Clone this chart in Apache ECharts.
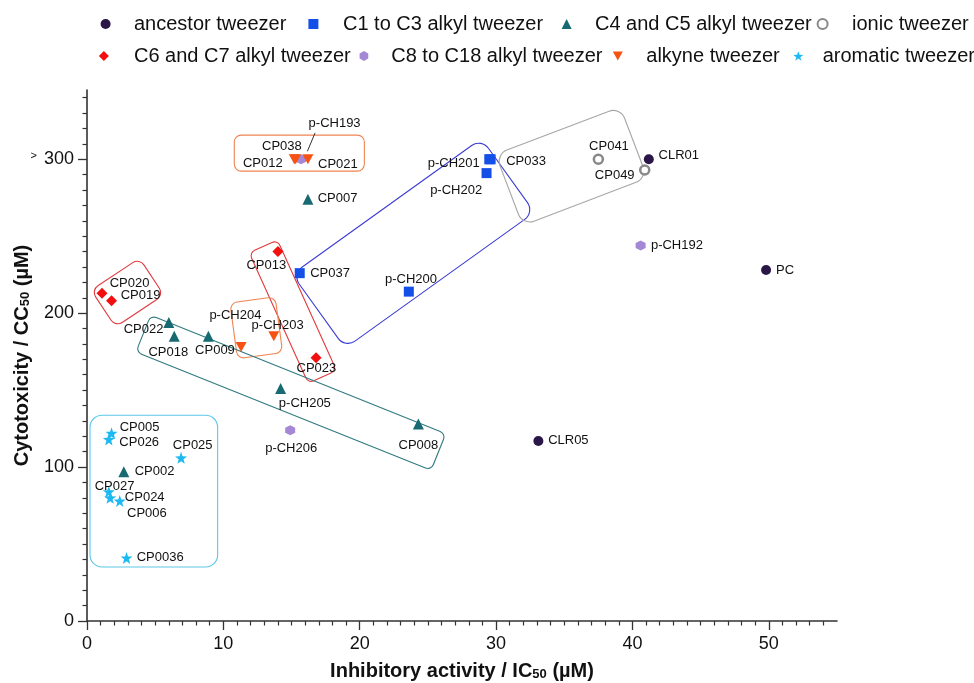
<!DOCTYPE html>
<html><head><meta charset="utf-8">
<script src="https://cdn.jsdelivr.net/npm/echarts@6/dist/echarts.min.js"></script>
<style>html,body{margin:0;padding:0;background:#fff}#c{width:974px;height:683px}</style>
</head><body><div id="c"></div>
<script>
// ---------------- DATA ----------------
const ancestorNames = ['CLR01', 'PC', 'CLR05'];
const ancestorIC50 = [41.2, 49.8, 33.1];
const ancestorCC50 = [300, 228, 117];

const c1c3Names = ['p-CH201', 'CP033', 'p-CH202', 'CP037', 'p-CH200'];
const c1c3IC50 = [29.5, 29.6, 29.3, 15.6, 23.6];
const c1c3CC50 = [300, 300, 291, 226, 214];

const c4c5Names = ['CP007', 'CP022', 'CP018', 'CP009', 'p-CH205', 'CP008', 'CP002'];
const c4c5IC50 = [16.2, 6.0, 6.4, 8.9, 14.2, 24.3, 2.7];
const c4c5CC50 = [274, 194, 185, 185, 151, 128, 97];

const ionicNames = ['CP041', 'CP049'];
const ionicIC50 = [37.5, 40.9];
const ionicCC50 = [300, 293];

const c6c7Names = ['CP020', 'CP019', 'CP013', 'CP023'];
const c6c7IC50 = [1.1, 1.8, 14.0, 16.8];
const c6c7CC50 = [213, 208, 240, 171];

const c8c18Names = ['p-CH193', 'p-CH192', 'p-CH206'];
const c8c18IC50 = [15.7, 40.6, 14.9];
const c8c18CC50 = [300, 244, 124];

const alkyneNames = ['CP038', 'CP012', 'CP021', 'p-CH204', 'p-CH203'];
const alkyneIC50 = [15.3, 15.2, 16.2, 11.3, 13.7];
const alkyneCC50 = [300, 300, 300, 178, 185];

const aromaticNames = ['CP005', 'CP026', 'CP025', 'CP027', 'CP024', 'CP006', 'CP0036'];
const aromaticIC50 = [1.8, 1.6, 6.9, 1.6, 2.4, 1.7, 2.9];
const aromaticCC50 = [122, 118, 106, 84, 78, 80, 41];

const groupNames = ['ancestor tweezer', 'C1 to C3 alkyl tweezer', 'C4 and C5 alkyl tweezer', 'ionic tweezer',
  'C6 and C7 alkyl tweezer', 'C8 to C18 alkyl tweezer', 'alkyne tweezer', 'aromatic tweezer'];

const xTickLabels = [0, 10, 20, 30, 40, 50];
const yTickLabels = [0, 100, 200, 300];

// ---------------- ANNOTATION / STYLE ----------------
const FONT = 'Liberation Sans, Arial, Helvetica, sans-serif';
const TXT = '#111111';

// label offsets (px) relative to symbol centre
const labelOffsets = {
  'CLR01': [30, -3.5], 'PC': [19, 0], 'CLR05': [30, 0],
  'p-CH201': [-35.5, 4], 'CP033': [35.4, 2.3], 'p-CH202': [-30.4, 17.7], 'CP037': [30.3, 0], 'p-CH200': [2.2, -12],
  'CP007': [29.7, -0.7], 'CP022': [-25.3, 6.6], 'CP018': [-6, 15.7], 'CP009': [6.6, 14], 'p-CH205': [24.2, 14.6],
  'CP008': [0, 21], 'CP002': [30.7, 0],
  'CP041': [10.6, -13], 'CP049': [-30, 5],
  'CP020': [27.6, -10], 'CP019': [29, -5.3], 'CP013': [-11.6, 14], 'CP023': [0.3, 10.6],
  'p-CH193': [33.5, -35.4], 'p-CH192': [36.3, 0], 'p-CH206': [1, 18],
  'CP038': [-13.7, -13.3], 'CP012': [-31.5, 4], 'CP021': [30, 4.7], 'p-CH204': [-5.7, -31.3], 'p-CH203': [3.8, -11],
  'CP005': [28, -5.6], 'CP026': [30.4, 3.4], 'CP025': [11.6, -12.3], 'CP027': [5.7, -5], 'CP024': [25, -3.3],
  'CP006': [36.7, 15.4], 'CP0036': [33.6, 0]
};
// leader line for a moved label: [start offset, end offset] in px from the point
const leaderName = 'p-CH193';
const leaderOffsets = [[6.3, -8], [14, -26.4]];

// rounded boxes: centre line ends in data coords, thickness px
const boxes = [
  { from: [10.80, 304.0], to: [20.34, 304.0], thick: 36, r: 7, color: '#ef8450' },
  { from: [16.99, 201.3], to: [30.87, 289.5], thick: 91, r: 12, color: '#3c3cd4' },
  { from: [30.96, 280.1], to: [40.10, 310.9], thick: 76, r: 12, color: '#a6a6a6' },
  { from: [1.20, 203.0], to: [4.74, 223.8], thick: 44, r: 8, color: '#e03a3e' },
  { from: [12.93, 243.4], to: [17.26, 158.6], thick: 31, r: 6, color: '#e03a3e' },
  { from: [12.14, 208.6], to: [12.69, 172.4], thick: 45.6, r: 7, color: '#ef8450' },
  { from: [4.13, 186.7], to: [25.77, 109.8], thick: 39.5, r: 6, color: '#2f7a80' },
  { from: [0.22, 84.4], to: [9.58, 84.4], thick: 151.7, r: 12, color: '#5cc8e8' }
];

const STAR = 'path://M10,0L12.35,6.76L19.51,6.91L13.8,11.24L15.88,18.09L10,14L4.12,18.09L6.2,11.24L0.49,6.91L7.65,6.76Z';
const HEX = 'path://M5,0L9.33,2.5L9.33,7.5L5,10L0.67,7.5L0.67,2.5Z';
const INVTRI = 'path://M0,0L10,0L5,9Z';

const groupStyles = [
  { symbol: 'circle', size: 10, item: { color: '#2a1748', opacity: 1 } },
  { symbol: 'rect', size: 10, item: { color: '#1450e8', opacity: 1 } },
  { symbol: 'triangle', size: 11, item: { color: '#176a72', opacity: 1 } },
  { symbol: 'circle', size: 9, item: { color: '#ffffff', borderColor: '#888888', borderWidth: 2.5, opacity: 1 } },
  { symbol: 'diamond', size: 11, item: { color: '#f20f0f', opacity: 1 } },
  { symbol: HEX, size: 10, item: { color: '#a488d6', opacity: 1 } },
  { symbol: INVTRI, size: [11, 10], item: { color: '#f55214', opacity: 1 } },
  { symbol: STAR, size: 12, item: { color: '#1cb9f2', opacity: 1 } }
];

const legendPos = [
  { left: 100.6, top: 13, pad: 18.4 }, { left: 308.4, top: 13, pad: 19.6 },
  { left: 561.6, top: 13, pad: 18.4 }, { left: 816.6, top: 13, pad: 19.4 },
  { left: 98.9, top: 45, pad: 20.1 }, { left: 359.6, top: 45, pad: 17.3 },
  { left: 612.8, top: 45, pad: 18.5 }, { left: 793.3, top: 45, pad: 14.4 }
];

// ---------------- BUILD ----------------
const groupData = [
  [ancestorNames, ancestorIC50, ancestorCC50],
  [c1c3Names, c1c3IC50, c1c3CC50],
  [c4c5Names, c4c5IC50, c4c5CC50],
  [ionicNames, ionicIC50, ionicCC50],
  [c6c7Names, c6c7IC50, c6c7CC50],
  [c8c18Names, c8c18IC50, c8c18CC50],
  [alkyneNames, alkyneIC50, alkyneCC50],
  [aromaticNames, aromaticIC50, aromaticCC50]
];

const scatterSeries = groupData.map((g, gi) => {
  const [names, xs, ys] = g;
  const st = groupStyles[gi];
  return {
    type: 'scatter', name: groupNames[gi], symbol: st.symbol, symbolSize: st.size,
    itemStyle: st.item, z: 3,
    data: names.map((n, i) => ({
      name: n, value: [xs[i], ys[i]],
      label: {
        show: true, position: 'inside', formatter: '{b}', color: TXT, fontSize: 13,
        fontFamily: FONT, textBorderWidth: 0, offset: labelOffsets[n] || [0, 0]
      }
    })),
    emphasis: { disabled: true }
  };
});

const boxSeries = {
  type: 'custom', z: 1, silent: true,
  data: boxes.map(b => [b.from[0], b.from[1]]),
  encode: { x: 0, y: 1 },
  renderItem: function (params, api) {
    const b = boxes[params.dataIndex];
    const p1 = api.coord(b.from), p2 = api.coord(b.to);
    const dx = p2[0] - p1[0], dy = p2[1] - p1[1];
    const L = Math.hypot(dx, dy), T = b.thick;
    return {
      type: 'rect',
      x: (p1[0] + p2[0]) / 2, y: (p1[1] + p2[1]) / 2,
      rotation: -Math.atan2(dy, dx),
      shape: { x: -L / 2, y: -T / 2, width: L, height: T, r: b.r },
      style: { fill: 'none', stroke: b.color, lineWidth: 1.1 }
    };
  }
};

const li = c8c18Names.indexOf(leaderName);
const leaderSeries = {
  type: 'custom', z: 2, silent: true,
  data: [[c8c18IC50[li], c8c18CC50[li]]],
  encode: { x: 0, y: 1 },
  renderItem: function (params, api) {
    const p = api.coord([api.value(0), api.value(1)]);
    return {
      type: 'line',
      shape: {
        x1: p[0] + leaderOffsets[0][0], y1: p[1] + leaderOffsets[0][1],
        x2: p[0] + leaderOffsets[1][0], y2: p[1] + leaderOffsets[1][1]
      },
      style: { stroke: '#333', lineWidth: 1 }
    };
  }
};

const chart = echarts.init(document.getElementById('c'), null, { renderer: 'canvas' });
chart.setOption({
  animation: false,
  backgroundColor: '#ffffff',
  grid: { left: 87, right: 137, top: 90, bottom: 62, containLabel: false, outerBoundsMode: 'none' },
  legend: groupNames.map((n, i) => ({
    data: [{ name: n }], left: legendPos[i].left, top: legendPos[i].top, padding: 0,
    itemWidth: 10, itemHeight: 10, selectedMode: false,
    textStyle: { fontSize: 20, fontFamily: FONT, color: TXT, lineHeight: 22, padding: [0, 0, 0, legendPos[i].pad] }
  })),
  xAxis: {
    type: 'value', min: 0, max: 55, interval: 10,
    name: 'Inhibitory activity / IC{sub|50} (µM)', nameLocation: 'middle', nameGap: 40, nameMoveOverlap: false,
    nameTextStyle: {
      fontSize: 20, fontWeight: 'bold', fontFamily: FONT, color: TXT, lineHeight: 20,
      rich: { sub: { fontSize: 13, fontWeight: 'bold', fontFamily: FONT, color: TXT, lineHeight: 10, verticalAlign: 'bottom' } }
    },
    axisLine: { show: true, onZero: false, lineStyle: { color: '#333', width: 1.6 } },
    axisTick: { show: true, length: 9, lineStyle: { color: '#333', width: 1.3 }, customValues: xTickLabels },
    minorTick: { show: true, splitNumber: 10, length: 4.5, lineStyle: { color: '#333', width: 1.2 } },
    axisLabel: {
      fontSize: 18, fontFamily: FONT, color: TXT, margin: 14, customValues: xTickLabels,
      formatter: v => (xTickLabels.indexOf(v) >= 0 ? String(v) : '')
    },
    splitLine: { show: false }
  },
  yAxis: {
    type: 'value', min: 0, max: 345, interval: 100,
    name: 'Cytotoxicity / CC{sub|50} (µM)', nameLocation: 'middle', nameGap: 55, nameRotate: 90, nameMoveOverlap: false,
    nameTextStyle: {
      fontSize: 20, fontWeight: 'bold', fontFamily: FONT, color: TXT, lineHeight: 20,
      rich: { sub: { fontSize: 13, fontWeight: 'bold', fontFamily: FONT, color: TXT, lineHeight: 10, verticalAlign: 'bottom' } }
    },
    axisLine: { show: true, onZero: false, lineStyle: { color: '#333', width: 1.6 } },
    axisTick: { show: true, length: 9, lineStyle: { color: '#333', width: 1.3 }, customValues: yTickLabels },
    minorTick: { show: true, splitNumber: 10, length: 4.5, lineStyle: { color: '#333', width: 1.2 } },
    axisLabel: {
      fontSize: 18, fontFamily: FONT, color: TXT, margin: 13, customValues: yTickLabels,
      formatter: v => (v === 300 ? '{gt|>}{sp|}300' : (yTickLabels.indexOf(v) >= 0 ? String(v) : '')),
      rich: {
        gt: { fontSize: 11, fontFamily: FONT, color: TXT, lineHeight: 8, verticalAlign: 'top' },
        sp: { width: 7 }
      }
    },
    splitLine: { show: false }
  },
  series: [boxSeries, leaderSeries].concat(scatterSeries)
});
</script>
</body></html>
